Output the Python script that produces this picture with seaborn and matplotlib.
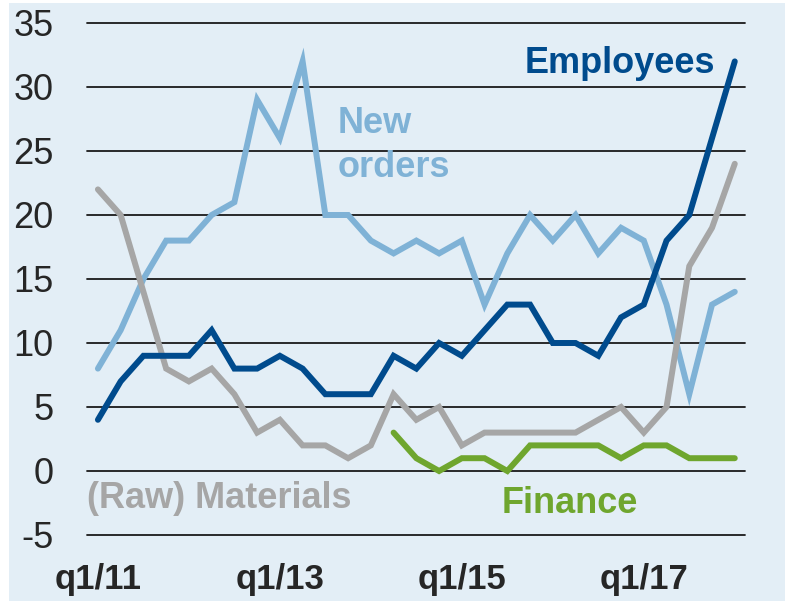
import numpy as np
import pandas as pd
import seaborn as sns
import matplotlib
matplotlib.use('Agg')
import matplotlib.pyplot as plt
from matplotlib.patches import Rectangle

# quarterly survey balances, q1/11 .. q1/18
quarters = [f'q{q}/{y}' for y in range(11, 19) for q in range(1, 5)][:29]
new_orders = [8, 11, 15, 18, 18, 20, 21, 29, 26, 32, 20, 20, 18, 17, 18, 17, 18,
              13, 17, 20, 18, 20, 17, 19, 18, 13, 6, 13, 14]
employees = [4, 7, 9, 9, 9, 11, 8, 8, 9, 8, 6, 6, 6, 9, 8, 10, 9,
             11, 13, 13, 10, 10, 9, 12, 13, 18, 20, 26, 32]
materials = [22, 20, 14, 8, 7, 8, 6, 3, 4, 2, 2, 1, 2, 6, 4, 5, 2,
             3, 3, 3, 3, 3, 4, 5, 3, 5, 16, 19, 24]
finance = [np.nan] * 13 + [3, 1, 0, 1, 1, 0, 2, 2, 2, 2, 1, 2, 2, 1, 1, 1]
tick_labels = ['q1/11', 'q1/13', 'q1/15', 'q1/17']

df = pd.DataFrame({
    'idx': np.arange(len(quarters)),
    'quarter': quarters,
    'New orders': new_orders,
    'Employees': employees,
    '(Raw) Materials': materials,
    'Finance': finance,
})

colors = {
    'New orders': '#7FB2D6',
    '(Raw) Materials': '#A6A6A6',
    'Finance': '#6FA62E',
    'Employees': '#004B8D',
}

sns.set_style('white')
plt.rcParams['font.family'] = ['Liberation Sans', 'DejaVu Sans']
plt.rcParams['axes.unicode_minus'] = False

fig = plt.figure(figsize=(7.85, 6.01), dpi=100)
fig.patch.set_facecolor('white')
fig.patches.append(Rectangle((9 / 785, 0), 1 - 9 / 785, 598 / 601,
                             transform=fig.transFigure, facecolor='#E3EEF6',
                             edgecolor='none', zorder=-10))
ax = fig.add_axes([87 / 785, 1 - 535 / 601, (745 - 87) / 785, (535 - 23) / 601])
ax.set_facecolor('none')

for name in ['New orders', '(Raw) Materials', 'Finance', 'Employees']:
    sns.lineplot(data=df, x='idx', y=name, ax=ax, color=colors[name],
                 linewidth=4.3, solid_capstyle='round', solid_joinstyle='miter')

ax.set_xlim(-0.48, 28.45)
ax.set_ylim(-5, 35)
ax.set_yticks(range(-5, 36, 5))
ax.set_xticks(df['idx'][df['quarter'].isin(tick_labels)])
ax.set_xticklabels(tick_labels, fontsize=25, fontweight='bold')
ax.tick_params(axis='y', labelsize=26, pad=24, length=0)
ax.tick_params(axis='x', pad=20, length=0)
ax.set_xlabel('')
ax.set_ylabel('')
ax.grid(axis='y', color='#1a1a1a', linewidth=1.3)
ax.set_axisbelow(True)
for gl in ax.get_ygridlines():
    gl.set_clip_on(False)
for s in ax.spines.values():
    s.set_visible(False)

# series labels (pixel positions, origin bottom-left)
H = 601
ax.text(715, H - 73, 'Employees', transform=None, fontsize=26, fontweight='bold',
        color=colors['Employees'], ha='right', va='baseline')
ax.text(338, H - 133, 'New', transform=None, fontsize=26, fontweight='bold',
        color=colors['New orders'], ha='left', va='baseline')
ax.text(338, H - 177, 'orders', transform=None, fontsize=26, fontweight='bold',
        color=colors['New orders'], ha='left', va='baseline')
ax.text(87, H - 508, '(Raw) Materials', transform=None, fontsize=26,
        fontweight='bold', color=colors['(Raw) Materials'], ha='left', va='baseline')
ax.text(502, H - 513, 'Finance', transform=None, fontsize=26, fontweight='bold',
        color=colors['Finance'], ha='left', va='baseline')

fig.savefig('out.png', dpi=100)
